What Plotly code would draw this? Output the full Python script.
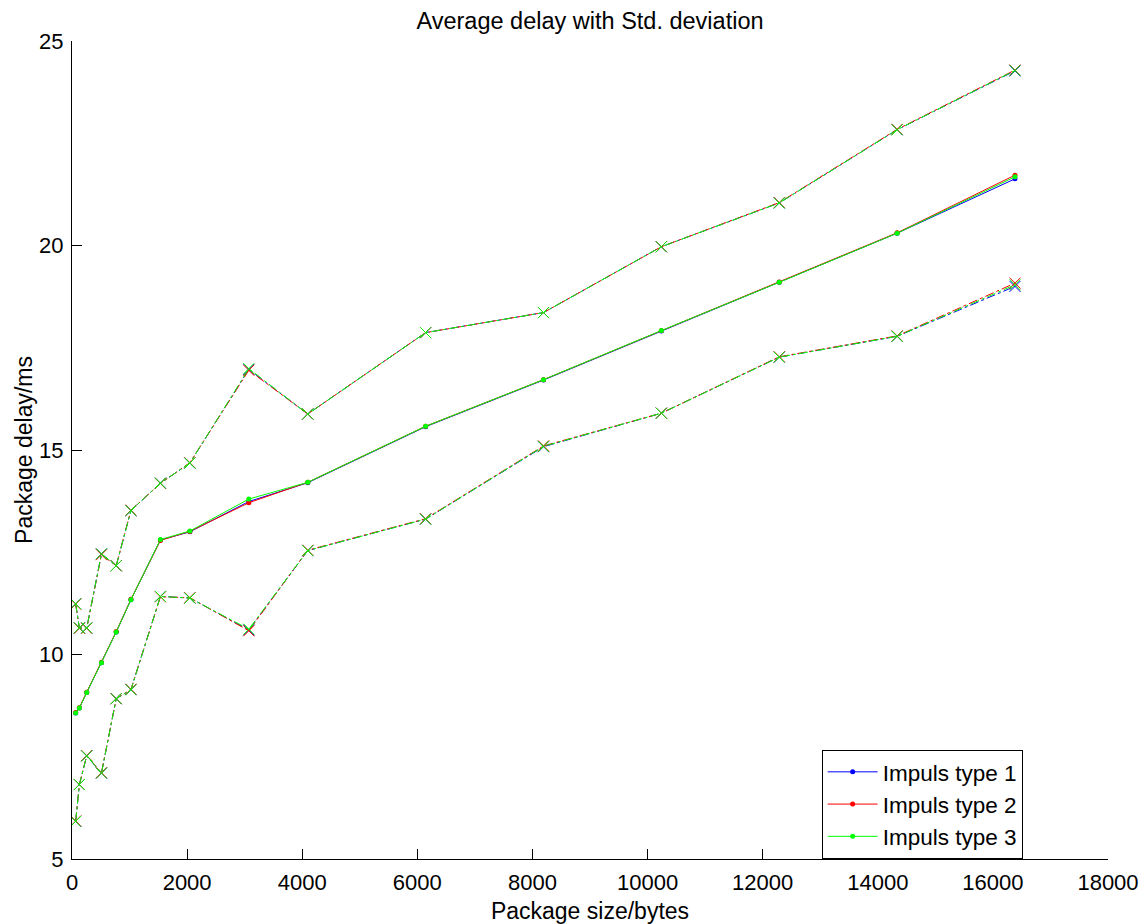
import plotly.graph_objects as go

sizes = [64, 128, 256, 512, 768, 1024, 1536, 2048, 3072, 4096, 6144, 8192, 10240, 12288, 14336, 16384]

mean1 = [8.57, 8.69, 9.07, 9.80, 10.55, 11.34, 12.80, 13.00, 13.74, 14.20, 15.57, 16.71, 17.91, 19.10, 20.30, 21.63]
mean2 = [8.58, 8.70, 9.08, 9.81, 10.56, 11.35, 12.79, 13.01, 13.71, 14.21, 15.58, 16.72, 17.92, 19.11, 20.31, 21.72]
mean3 = [8.57, 8.69, 9.07, 9.80, 10.55, 11.34, 12.81, 13.02, 13.80, 14.21, 15.58, 16.72, 17.92, 19.10, 20.30, 21.68]

upper1 = [11.24, 10.65, 10.65, 12.46, 12.17, 13.52, 14.19, 14.68, 16.97, 15.88, 17.87, 18.36, 19.97, 21.04, 22.83, 24.27]
upper2 = [11.23, 10.64, 10.64, 12.44, 12.17, 13.53, 14.18, 14.69, 16.95, 15.88, 17.87, 18.36, 19.97, 21.05, 22.84, 24.29]
upper3 = [11.24, 10.65, 10.65, 12.46, 12.17, 13.52, 14.19, 14.68, 16.99, 15.88, 17.87, 18.36, 19.97, 21.04, 22.83, 24.28]

lower1 = [5.92, 6.82, 7.52, 7.10, 8.92, 9.14, 11.42, 11.38, 10.60, 12.54, 13.31, 15.08, 15.90, 17.27, 17.78, 19.00]
lower2 = [5.93, 6.82, 7.53, 7.11, 8.92, 9.15, 11.41, 11.39, 10.58, 12.55, 13.32, 15.10, 15.90, 17.28, 17.79, 19.08]
lower3 = [5.92, 6.82, 7.52, 7.10, 8.92, 9.14, 11.42, 11.38, 10.62, 12.54, 13.31, 15.09, 15.90, 17.27, 17.78, 19.04]

names = ["Impuls type 1", "Impuls type 2", "Impuls type 3"]
colors = ["#0000ff", "#ff0000", "#00ff00"]

x_ticks = [0, 2000, 4000, 6000, 8000, 10000, 12000, 14000, 16000, 18000]
y_ticks = [5, 10, 15, 20, 25]

fig = go.Figure()

for name, col, mean, up, lo in zip(names, colors, [mean1, mean2, mean3],
                                    [upper1, upper2, upper3], [lower1, lower2, lower3]):
    fig.add_trace(go.Scatter(
        x=sizes, y=mean, mode="lines+markers", name=name,
        line=dict(color=col, width=1),
        marker=dict(symbol="circle", size=5, color=col),
    ))
    for b in (up, lo):
        fig.add_trace(go.Scatter(
            x=sizes, y=b, mode="lines+markers", showlegend=False,
            line=dict(color=col, width=1, dash="dashdot"),
            marker=dict(symbol="x-thin", size=11, line=dict(color=col, width=1)),
        ))

# page has an 8px body margin, so the figure is 8px smaller and offset
fig.update_layout(
    width=1140, height=916,
    paper_bgcolor="white", plot_bgcolor="white",
    margin=dict(l=64, r=39.5, t=33, b=64.7),
    font=dict(family="Liberation Sans, Arial, sans-serif", color="black", size=22),
    title=dict(text="Average delay with Std. deviation", xref="paper", x=0.5, xanchor="center",
               y=0.9865, yanchor="middle", font=dict(size=23.5)),
    showlegend=True,
    legend=dict(x=0.7236, y=0.1336, xanchor="left", yanchor="top",
                bgcolor="white", bordercolor="black", borderwidth=1,
                font=dict(size=22.5), tracegroupgap=0, itemwidth=50),
    xaxis=dict(range=[0, 18000], tickvals=x_ticks, ticktext=[str(v) for v in x_ticks],
               showgrid=False, zeroline=False, showline=True, linecolor="black", linewidth=1,
               ticks="inside", ticklen=10, tickcolor="black", automargin=False,
               tickfont=dict(size=22), ticklabelstandoff=4,
               title=dict(text="Package size/bytes", font=dict(size=23), standoff=8)),
    yaxis=dict(range=[5, 25], tickvals=y_ticks, ticktext=[str(v) for v in y_ticks],
               showgrid=False, zeroline=False, showline=True, linecolor="black", linewidth=1,
               ticks="inside", ticklen=10, tickcolor="black", automargin=False,
               tickfont=dict(size=22), ticklabelstandoff=3,
               title=dict(text="Package delay/ms", font=dict(size=23), standoff=0)),
)

fig.write_html("out.html")
